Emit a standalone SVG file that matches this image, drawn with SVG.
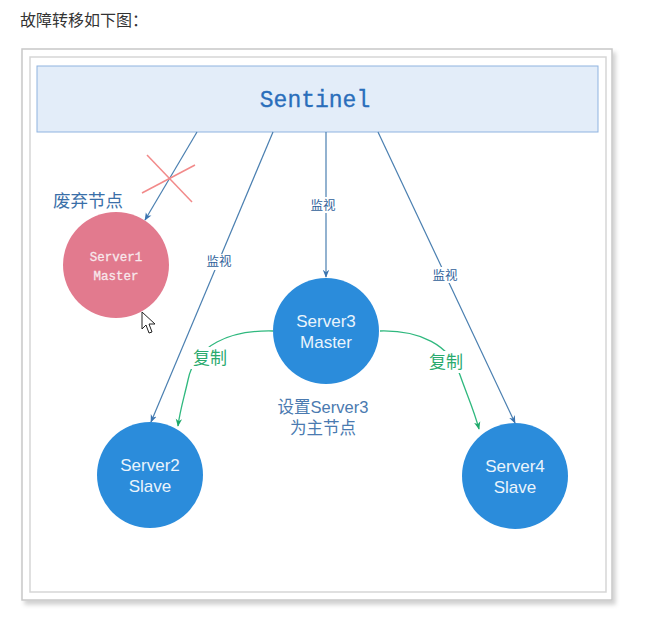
<svg xmlns="http://www.w3.org/2000/svg" width="668" height="630" viewBox="0 0 668 630">
<defs>
<style>
.title{font-family:"Liberation Sans","Noto Sans CJK SC",sans-serif;font-size:16px;fill:#333}
.mono{font-family:"Liberation Mono","DejaVu Sans Mono",monospace}
.lbl{font-family:"Liberation Sans","Noto Sans CJK SC",sans-serif;font-size:12.5px;fill:#2f5f9a}
.cn{font-family:"Liberation Sans","Noto Sans CJK SC",sans-serif}
.node{fill:#2b8cdb}
.ntext{font-family:"Liberation Sans",Arial,sans-serif;font-size:17px;fill:#eaf4fc;text-anchor:middle}
.mon{fill:none;stroke:#4a7fb0;stroke-width:1.2}
.rep{fill:none;stroke:#2fb87e;stroke-width:1.3}
</style>
<marker id="ab" viewBox="0 0 10 10" refX="9" refY="5" markerWidth="8" markerHeight="8" orient="auto" markerUnits="userSpaceOnUse">
<path d="M0,1 L10,5 L0,9 L3,5 Z" fill="#3a74b0"/>
</marker>
<marker id="ag" viewBox="0 0 10 10" refX="9" refY="5" markerWidth="8" markerHeight="8" orient="auto" markerUnits="userSpaceOnUse">
<path d="M0,1 L10,5 L0,9 L3,5 Z" fill="#1fa86a"/>
</marker>
<filter id="sh" x="-5%" y="-5%" width="110%" height="110%">
<feDropShadow dx="3" dy="4" stdDeviation="2" flood-color="#000" flood-opacity="0.18"/>
</filter>
</defs>
<rect width="668" height="630" fill="#fff"/>
<text class="title" x="20" y="26">故障转移如下图：</text>
<g id="frame">
<rect x="22" y="49" width="590" height="551" fill="#fff" stroke="#c8c8c8" stroke-width="1.5" filter="url(#sh)"/>
<rect x="30" y="57" width="576" height="535" fill="#fff" stroke="#d6d6d6" stroke-width="1.5"/>
</g>
<g id="sentinel">
<rect x="37" y="66" width="561" height="66" fill="#e3edf9" stroke="#8fb3e0" stroke-width="1"/>
<text class="mono" x="315" y="107" font-size="23" fill="#2a6ebb" text-anchor="middle" stroke="#2a6ebb" stroke-width="0.3">Sentinel</text>
</g>
<g id="connectors">
<line class="mon" x1="197" y1="132" x2="145" y2="220" marker-end="url(#ab)"/>
<line class="mon" x1="273" y1="132" x2="151" y2="422" marker-end="url(#ab)"/>
<line class="mon" x1="326" y1="132" x2="326" y2="277" marker-end="url(#ab)"/>
<line class="mon" x1="378" y1="132" x2="515" y2="423" marker-end="url(#ab)"/>
<rect x="306" y="197" width="34" height="16" fill="#fff"/>
<text class="lbl" x="323" y="210" text-anchor="middle">监视</text>
<rect x="202" y="254" width="34" height="16" fill="#fff"/>
<text class="lbl" x="219" y="266" text-anchor="middle">监视</text>
<rect x="428" y="267" width="34" height="16" fill="#fff"/>
<text class="lbl" x="445" y="280" text-anchor="middle">监视</text>
<path class="rep" d="M273,331 C230,330 195,345 188,380 C184,398 180,410 178,426" marker-end="url(#ag)"/>
<path class="rep" d="M380,331 C420,330 450,345 460,375 C467,395 474,410 479,429" marker-end="url(#ag)"/>
<rect x="189" y="347" width="42" height="22" fill="#fff"/>
<text class="cn" x="210" y="364" font-size="17" fill="#2aaa6e" text-anchor="middle">复制</text>
<rect x="425" y="351" width="42" height="22" fill="#fff"/>
<text class="cn" x="446" y="368" font-size="17" fill="#2aaa6e" text-anchor="middle">复制</text>
<line x1="147" y1="155" x2="192" y2="202" stroke="#f28a8a" stroke-width="1.5"/>
<line x1="142" y1="193" x2="195" y2="165" stroke="#f28a8a" stroke-width="1.5"/>
</g>
<g id="server1">
<text class="cn" x="53" y="207" font-size="17.5" fill="#3a6fa8">废弃节点</text>
<circle cx="116" cy="265" r="53" fill="#e27a8e"/>
<text class="mono" x="116" y="261" font-size="12.5" fill="#f8e8ec" text-anchor="middle" stroke="#f8e8ec" stroke-width="0.3">Server1</text>
<text class="mono" x="116" y="280" font-size="12.5" fill="#f8e8ec" text-anchor="middle" stroke="#f8e8ec" stroke-width="0.3">Master</text>
</g>
<g id="server3">
<circle class="node" cx="326" cy="331" r="53"/>
<text class="ntext" x="326" y="327">Server3</text>
<text class="ntext" x="326" y="348">Master</text>
<text class="cn" x="323" y="413" font-size="16.5" fill="#4a7ab0" text-anchor="middle">设置Server3</text>
<text class="cn" x="323" y="434" font-size="16.5" fill="#4a7ab0" text-anchor="middle">为主节点</text>
</g>
<g id="server2">
<circle class="node" cx="150" cy="475" r="53"/>
<text class="ntext" x="150" y="471">Server2</text>
<text class="ntext" x="150" y="492">Slave</text>
</g>
<g id="server4">
<circle class="node" cx="515" cy="476" r="53"/>
<text class="ntext" x="515" y="472">Server4</text>
<text class="ntext" x="515" y="493">Slave</text>
</g>
<g id="cursor">
<path d="M142,312 L142,329 L146,325 L149,333 L152,332 L149,324 L155,324 Z" fill="#fff" stroke="#222" stroke-width="1" stroke-linejoin="round"/>
</g>
</svg>
